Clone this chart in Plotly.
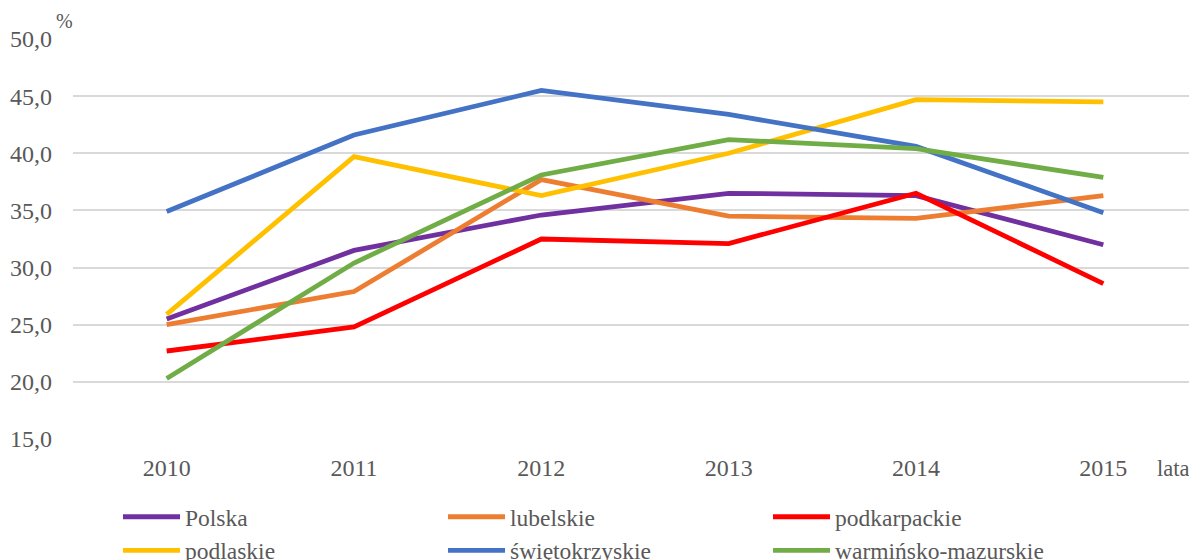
import plotly.graph_objects as go

years = ["2010", "2011", "2012", "2013", "2014", "2015"]
polska = [25.5, 31.5, 34.6, 36.5, 36.3, 32.0]
lubelskie = [25.0, 27.9, 37.7, 34.5, 34.3, 36.3]
podkarpackie = [22.7, 24.8, 32.5, 32.1, 36.5, 28.6]
podlaskie = [25.9, 39.7, 36.3, 40.0, 44.7, 44.5]
swietokrzyskie = [34.9, 41.6, 45.5, 43.4, 40.6, 34.8]
warminsko = [20.3, 30.4, 38.1, 41.2, 40.4, 37.9]

# (name, values, colour, legend column)
series = [
    ("Polska", polska, "#7030A0", "legend"),
    ("lubelskie", lubelskie, "#ED7D31", "legend2"),
    ("podkarpackie", podkarpackie, "#FF0000", "legend3"),
    ("podlaskie", podlaskie, "#FFC000", "legend"),
    ("świętokrzyskie", swietokrzyskie, "#4472C4", "legend2"),
    ("warmińsko-mazurskie", warminsko, "#70AD47", "legend3"),
]

font_family = "Liberation Serif, Times New Roman, DejaVu Serif, serif"
grey = "#595959"
W, H = 1189, 552

fig = go.Figure()
for name, vals, color, leg in series:
    fig.add_trace(go.Scatter(
        x=years, y=vals, name=name, mode="lines",
        line=dict(color=color, width=4.8),
        legend=leg,
    ))

def legend_cfg(xpx):
    return dict(
        orientation="v", xref="container", yref="container",
        x=xpx / W, xanchor="left", y=1 - 487 / H, yanchor="top",
        font=dict(family=font_family, size=23.5, color=grey),
        itemwidth=57, tracegroupgap=0, bgcolor="rgba(0,0,0,0)",
    )

fig.update_layout(
    width=W, height=H,
    margin=dict(l=65, r=0, t=31, b=121, autoexpand=False),
    paper_bgcolor="white", plot_bgcolor="white",
    separators=", ",
    font=dict(family=font_family, size=24, color=grey),
    showlegend=True,
    legend=legend_cfg(110),
    legend2=legend_cfg(435),
    legend3=legend_cfg(760),
    xaxis=dict(
        type="category", range=[-0.5, 5.5],
        showgrid=False, showline=False, zeroline=False,
        ticks="", ticklabelstandoff=12,
        tickfont=dict(family=font_family, size=24, color=grey),
    ),
    yaxis=dict(
        range=[15, 50], dtick=5, tick0=15, tickformat=".1f",
        showgrid=True, gridcolor="#D9D9D9", gridwidth=1.5,
        showline=False, zeroline=False, ticks="",
        ticklabelstandoff=20,
        tickfont=dict(family=font_family, size=24, color=grey),
    ),
    annotations=[
        dict(text="%", xref="paper", yref="paper", x=-0.0165, y=1.045,
             xanchor="left", yanchor="middle", showarrow=False,
             font=dict(family=font_family, size=20, color=grey)),
        dict(text="lata", xref="paper", yref="paper", x=0.979, y=-0.0725,
             xanchor="center", yanchor="middle", showarrow=False,
             font=dict(family=font_family, size=22.5, color=grey)),
    ],
)

fig.write_html("out.html")
